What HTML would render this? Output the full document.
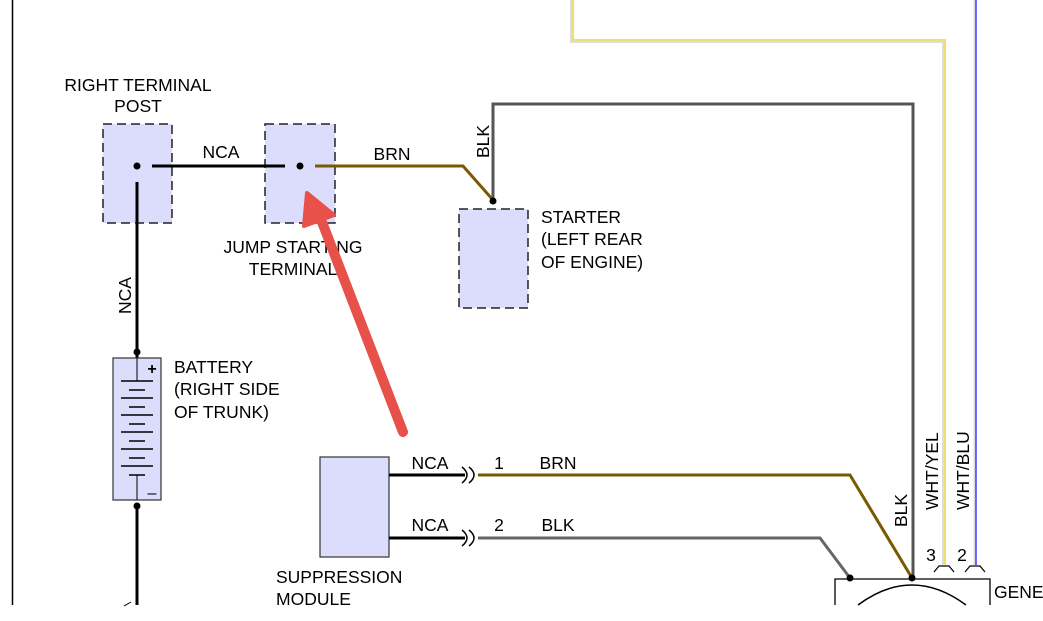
<!DOCTYPE html>
<html><head><meta charset="utf-8"><style>
html,body{margin:0;padding:0;background:#fff;}
svg{display:block;font-family:"Liberation Sans",sans-serif;}
</style></head><body>
<svg width="1043" height="621" viewBox="0 0 1043 621" xmlns="http://www.w3.org/2000/svg">
<rect width="1043" height="621" fill="#fff"/>
<line x1="12.5" y1="0" x2="12.5" y2="605" stroke="#000" stroke-width="1.5"/>
<polyline points="572,0 572,41 944,41 944,565" fill="none" stroke="#ddd" stroke-width="4"/>
<polyline points="573,0 573,40 945,40 945,565" fill="none" stroke="#f5e04a" stroke-width="1.5"/>
<line x1="975" y1="0" x2="975" y2="565" stroke="#ddd" stroke-width="3"/>
<line x1="976" y1="0" x2="976" y2="565" stroke="#2020ff" stroke-width="1.3"/>
<polyline points="493,200 493,104 913,104 913,578" fill="none" stroke="#555" stroke-width="3"/>
<text transform="translate(489,158) rotate(-90)" font-size="17.5">BLK</text>
<rect x="103" y="124" width="69" height="99" fill="#dcdcfc" stroke="#222" stroke-width="1.5" stroke-dasharray="9,5"/>
<rect x="265" y="124" width="70" height="99" fill="#dcdcfc" stroke="#222" stroke-width="1.5" stroke-dasharray="9,5"/>
<rect x="459" y="209" width="69" height="99" fill="#dcdcfc" stroke="#222" stroke-width="1.5" stroke-dasharray="9,5"/>
<text x="138" y="91" font-size="17.5" text-anchor="middle">RIGHT TERMINAL</text>
<text x="138" y="112" font-size="17.5" text-anchor="middle">POST</text>
<text x="293" y="253" font-size="17.5" text-anchor="middle">JUMP STARTING</text>
<text x="293" y="275" font-size="17.5" text-anchor="middle">TERMINAL</text>
<text x="541" y="223" font-size="17.5">STARTER</text>
<text x="541" y="245" font-size="17.5">(LEFT REAR</text>
<text x="541" y="268" font-size="17.5">OF ENGINE)</text>
<line x1="152" y1="166" x2="285" y2="166" stroke="#000" stroke-width="3"/>
<text x="221" y="158" font-size="17.5" text-anchor="middle">NCA</text>
<circle cx="137" cy="166" r="3.5" fill="#000"/>
<circle cx="300" cy="166" r="3.5" fill="#000"/>
<polyline points="315,166 463,166 493,200" fill="none" stroke="#7a5a00" stroke-width="3"/>
<text x="392" y="160" font-size="17.5" text-anchor="middle">BRN</text>
<circle cx="493" cy="201" r="3.5" fill="#000"/>
<line x1="137" y1="182" x2="137" y2="358" stroke="#000" stroke-width="3"/>
<text transform="translate(131,314) rotate(-90)" font-size="17.5">NCA</text>
<rect x="113" y="358" width="48" height="142" fill="#dcdcfc" stroke="#333" stroke-width="1.2"/>
<circle cx="137" cy="352" r="3.5" fill="#000"/>
<line x1="137" y1="358" x2="137" y2="381" stroke="#000" stroke-width="1"/>
<g stroke="#000" stroke-width="1.5">
<line x1="121" y1="381" x2="153" y2="381"/><line x1="129" y1="390" x2="145" y2="390"/>
<line x1="121" y1="398" x2="153" y2="398"/><line x1="129" y1="407" x2="145" y2="407"/>
<line x1="121" y1="415" x2="153" y2="415"/><line x1="129" y1="424" x2="145" y2="424"/>
<line x1="121" y1="432" x2="153" y2="432"/><line x1="129" y1="441" x2="145" y2="441"/>
<line x1="121" y1="449" x2="153" y2="449"/><line x1="129" y1="458" x2="145" y2="458"/>
<line x1="121" y1="466" x2="153" y2="466"/><line x1="129" y1="475" x2="145" y2="475"/>
</g>
<line x1="137" y1="475" x2="137" y2="500" stroke="#000" stroke-width="1"/>
<text x="152" y="374" font-size="16" text-anchor="middle" font-weight="bold">+</text>
<text x="152" y="498" font-size="16" text-anchor="middle">–</text>
<circle cx="137" cy="506" r="3.5" fill="#000"/>
<line x1="137" y1="506" x2="137" y2="605" stroke="#000" stroke-width="3"/>
<line x1="124" y1="606" x2="131" y2="602" stroke="#000" stroke-width="1"/>
<text x="174" y="373" font-size="17.5">BATTERY</text>
<text x="174" y="395" font-size="17.5">(RIGHT SIDE</text>
<text x="174" y="418" font-size="17.5">OF TRUNK)</text>
<rect x="320" y="457" width="69" height="100" fill="#dcdcfc" stroke="#333" stroke-width="1.2"/>
<text x="276" y="583" font-size="17.5">SUPPRESSION</text>
<text x="276" y="605" font-size="17.5">MODULE</text>
<line x1="389" y1="475" x2="465" y2="475" stroke="#000" stroke-width="3"/>
<line x1="389" y1="538" x2="465" y2="538" stroke="#000" stroke-width="3"/>
<path d="M462,467 Q472,475 462,483 M469,467 Q479,475 469,483" fill="none" stroke="#000" stroke-width="1.5"/>
<path d="M462,530 Q472,538 462,546 M469,530 Q479,538 469,546" fill="none" stroke="#000" stroke-width="1.5"/>
<polyline points="478,475 850,475 912,578" fill="none" stroke="#7a5a00" stroke-width="3"/>
<polyline points="478,538 820,538 850,578" fill="none" stroke="#666" stroke-width="3"/>
<text x="430" y="469" font-size="17.5" text-anchor="middle">NCA</text>
<text x="430" y="531" font-size="17.5" text-anchor="middle">NCA</text>
<text x="499" y="469" font-size="17.5" text-anchor="middle">1</text>
<text x="499" y="531" font-size="17.5" text-anchor="middle">2</text>
<text x="558" y="469" font-size="17.5" text-anchor="middle">BRN</text>
<text x="558" y="531" font-size="17.5" text-anchor="middle">BLK</text>
<polyline points="835,605 835,579 990,579 990,605" fill="none" stroke="#000" stroke-width="1.3"/>
<path d="M858,605 Q912,565 966,605" fill="none" stroke="#000" stroke-width="1.5"/>
<circle cx="850" cy="578" r="3.5" fill="#000"/>
<circle cx="912" cy="578" r="3.5" fill="#000"/>
<text x="994" y="598" font-size="17.5">GENE</text>
<text transform="translate(907,527) rotate(-90)" font-size="17.5">BLK</text>
<text transform="translate(938,510) rotate(-90)" font-size="17.5">WHT/YEL</text>
<text transform="translate(969,510) rotate(-90)" font-size="17.5">WHT/BLU</text>
<text x="931" y="561" font-size="17.5" text-anchor="middle">3</text>
<text x="962" y="561" font-size="17.5" text-anchor="middle">2</text>
<path d="M934,572 L939,566 L949,566 L954,572 M965,572 L970,566 L980,566 L985,572" fill="none" stroke="#000" stroke-width="1.2"/>
<line x1="403" y1="432" x2="322" y2="222" stroke="#e8504a" stroke-width="10" stroke-linecap="round"/>
<polygon points="307,193 334,215 304,226" fill="#e8504a" stroke="#e8504a" stroke-width="4" stroke-linejoin="round"/>
</svg>
</body></html>
